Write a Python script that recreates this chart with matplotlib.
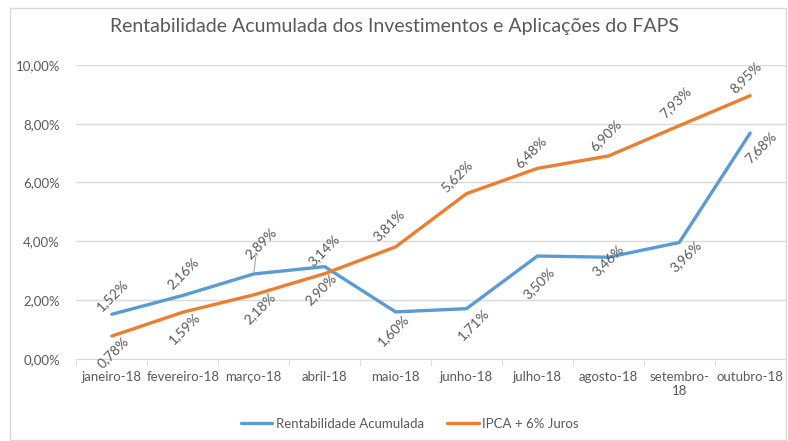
import matplotlib.pyplot as plt
import numpy as np
from matplotlib.ticker import FixedLocator, FuncFormatter

plt.rcParams['font.family'] = ['Lato', 'DejaVu Sans']

meses = ['janeiro-18', 'fevereiro-18', 'março-18', 'abril-18', 'maio-18',
         'junho-18', 'julho-18', 'agosto-18', 'setembro-\n18', 'outubro-18']
rentabilidade = [1.52, 2.16, 2.89, 3.14, 1.60, 1.71, 3.50, 3.46, 3.96, 7.68]
ipca = [0.78, 1.59, 2.18, 2.90, 3.81, 5.62, 6.48, 6.90, 7.93, 8.95]

# label offsets (pixels) from each point
off_rent = [(0, 19), (0, 22), (7, 31), (-1, 16), (-2, -18),
            (7, -16), (1, -27), (0, -3), (7, -14), (11, -14)]
off_ipca = [(1, -16), (2, -16), (6, -13), (-4, -16), (-7, 22),
            (-10, 17), (-7, 16), (-3, 21), (-4, 23), (-4, 18)]

azul = '#5B9BD5'
laranja = '#ED7D31'
cinza = '#595959'

fig = plt.figure(figsize=(7.88, 4.41), dpi=100)
ax = fig.add_axes([0.097, 0.186, 0.9, 0.667])

x = np.arange(len(meses))
ax.plot(x, np.array(rentabilidade) / 100, color=azul, lw=2.4,
        label='Rentabilidade Acumulada', solid_capstyle='round', zorder=3)
ax.plot(x, np.array(ipca) / 100, color=laranja, lw=2.4,
        label='IPCA + 6% Juros', solid_capstyle='round', zorder=3)

px = 72 / 100
for i in range(len(x)):
    for vals, offs in ((rentabilidade, off_rent), (ipca, off_ipca)):
        dx, dy = offs[i]
        txt = ('%.2f%%' % vals[i]).replace('.', ',')
        ax.annotate(txt, (x[i], vals[i] / 100), xytext=(dx * px, dy * px),
                    textcoords='offset points', rotation=45, ha='center',
                    va='center', fontsize=10, color=cinza, zorder=4)

# leader line for março label
ax.annotate('', (x[2], rentabilidade[2] / 100), xytext=(2 * px, 17 * px),
            textcoords='offset points',
            arrowprops=dict(arrowstyle='-', color='#A6A6A6', lw=0.8,
                            shrinkA=0, shrinkB=2))

ax.set_xlim(-0.5, len(meses) - 0.5)
ax.set_ylim(0, 0.10)
ax.set_yticks(np.arange(0, 0.101, 0.02))
ax.yaxis.set_major_formatter(FuncFormatter(lambda v, p: ('%.2f%%' % (v * 100)).replace('.', ',')))
ax.set_xticks(x)
ax.set_xticklabels(meses)
ax.xaxis.set_minor_locator(FixedLocator(np.arange(-0.5, len(meses), 1)))
ax.tick_params(axis='x', which='major', length=0, pad=9, labelsize=9.5, labelcolor=cinza)
ax.tick_params(axis='x', which='minor', length=5, color='#D9D9D9')
ax.tick_params(axis='y', length=0, pad=12, labelsize=9.5, labelcolor=cinza)
ax.grid(axis='y', color='#D9D9D9', lw=1)
ax.set_axisbelow(True)
for s in ['top', 'right', 'left']:
    ax.spines[s].set_visible(False)
ax.spines['bottom'].set_color('#D9D9D9')

fig.text(0.5, 0.94, 'Rentabilidade Acumulada dos Investimentos e Aplicações do FAPS',
         ha='center', va='center', fontsize=14, color=cinza)

fig.legend(loc='center', bbox_to_anchor=(0.52, 0.039), ncol=2, frameon=False,
           fontsize=9.5, labelcolor=cinza, handlelength=2.4, columnspacing=1.8,
           handletextpad=0.25)

fig.patches.append(plt.Rectangle((0.013, 0.003), 0.985, 0.978, transform=fig.transFigure,
                                 fill=False, edgecolor='#D9D9D9', lw=1))

plt.savefig('out.png', dpi=100)
